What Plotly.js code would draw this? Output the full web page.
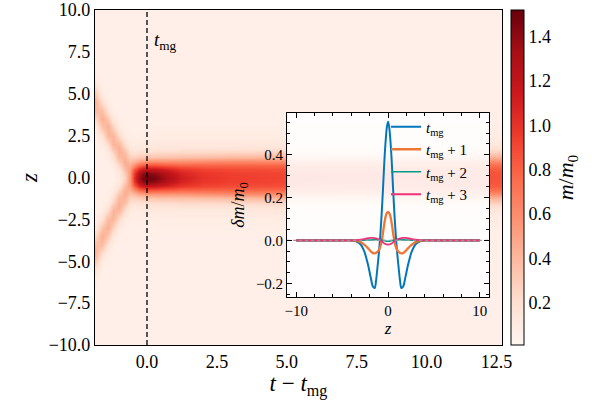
<!DOCTYPE html>
<html>
<head>
<meta charset="utf-8">
<script src="https://cdn.plot.ly/plotly-3.0.1.min.js"></script>
<style>
html,body{margin:0;padding:0;background:#fff}
#chart{width:600px;height:400px}
#chart svg text{font-family:"Liberation Serif",serif !important;font-size:18px}
</style>
</head>
<body>
<div id="chart"></div>
<script>
// ---------- main heat map: m/m0 over (t - t_mg, z) ----------
// time columns (t - t_mg)
const tCols = [-1.86, -1.6, -1.4, -1.2, -1.0, -0.8, -0.6, -0.45, -0.3, -0.15, 0, 0.3, 0.7, 1.2, 2, 3, 5, 9, 12.7];
// z rows for z >= 0 (field is mirror-symmetric in z)
const zRows = [0, 0.25, 0.5, 0.75, 1, 1.25, 1.5, 1.75, 2, 2.5, 3, 3.5, 4, 4.5, 5, 5.5, 6, 7, 10];
// m/m0 profile along zRows for every time column
const massProfiles = [
  [.06,.06,.06,.06,.06,.06,.06,.06,.06,.07,.11,.23,.39,.44,.33,.17,.09,.06,.06],
  [.06,.06,.06,.06,.06,.065,.07,.075,.095,.185,.345,.45,.375,.215,.105,.07,.06,.06,.06],
  [.06,.06,.062,.065,.072,.085,.11,.16,.23,.39,.44,.33,.17,.09,.065,.06,.06,.06,.06],
  [.065,.07,.08,.10,.14,.20,.27,.36,.42,.42,.27,.14,.08,.065,.06,.06,.06,.06,.06],
  [.12,.135,.175,.245,.33,.40,.44,.44,.39,.23,.11,.07,.06,.06,.06,.06,.06,.06,.06],
  [.28,.31,.38,.44,.45,.42,.36,.27,.20,.10,.07,.06,.06,.06,.06,.06,.06,.06,.06],
  [.55,.55,.52,.45,.36,.27,.20,.14,.11,.08,.065,.06,.06,.06,.06,.06,.06,.06,.06],
  [1.0,.95,.80,.58,.40,.27,.18,.12,.09,.07,.06,.06,.06,.06,.06,.06,.06,.06,.06],
  [1.33,1.25,1.04,.75,.48,.30,.19,.13,.10,.075,.065,.06,.06,.06,.06,.06,.06,.06,.06],
  [1.48,1.38,1.14,.82,.52,.32,.20,.14,.11,.08,.065,.06,.06,.06,.06,.06,.06,.06,.06],
  [1.52,1.42,1.18,.85,.55,.33,.20,.14,.11,.08,.065,.06,.06,.06,.06,.06,.06,.06,.06],
  [1.47,1.38,1.16,.85,.56,.34,.21,.15,.12,.085,.07,.06,.06,.06,.06,.06,.06,.06,.06],
  [1.30,1.24,1.08,.82,.56,.35,.22,.15,.12,.09,.07,.06,.06,.06,.06,.06,.06,.06,.06],
  [1.12,1.08,.98,.78,.56,.36,.23,.16,.12,.09,.07,.06,.06,.06,.06,.06,.06,.06,.06],
  [1.00,.98,.92,.78,.58,.37,.23,.16,.12,.09,.07,.06,.06,.06,.06,.06,.06,.06,.06],
  [.95,.94,.89,.78,.60,.39,.24,.16,.12,.09,.07,.06,.06,.06,.06,.06,.06,.06,.06],
  [.92,.91,.87,.77,.60,.40,.25,.17,.13,.09,.07,.06,.06,.06,.06,.06,.06,.06,.06],
  [.88,.87,.84,.75,.60,.41,.26,.18,.13,.09,.07,.06,.06,.06,.06,.06,.06,.06,.06],
  [.86,.85,.82,.74,.60,.42,.27,.18,.13,.09,.07,.06,.06,.06,.06,.06,.06,.06,.06]
];
const cRange = [0.01, 1.52];
const cbTicks = [0.2, 0.4, 0.6, 0.8, 1.0, 1.2, 1.4];
const tMerge = 0;           // dashed line position (t = t_mg)
const zSpan = [-10, 10];

// ---------- inset: delta m / m0 vs z ----------
const zIn = [-10,-5,-4,-3.5,-3,-2.6,-2.2,-1.9,-1.65,-1.45,-1.3,-1.15,-1,-0.85,-0.7,-0.55,-0.4,-0.25,-0.12,0,
             0.12,0.25,0.4,0.55,0.7,0.85,1,1.15,1.3,1.45,1.65,1.9,2.2,2.6,3,3.5,4,5,10];
const dm0 = [0,0,0,-0.004,-0.018,-0.05,-0.11,-0.17,-0.215,-0.222,-0.185,-0.125,-0.06,0.02,0.12,0.24,0.37,0.47,0.53,0.553,
             0.53,0.47,0.37,0.24,0.12,0.02,-0.06,-0.125,-0.185,-0.222,-0.215,-0.17,-0.11,-0.05,-0.018,-0.004,0,0,0];
const dm1 = [0,0,0,-0.002,-0.008,-0.02,-0.036,-0.05,-0.059,-0.06,-0.058,-0.053,-0.045,-0.03,-0.005,0.035,0.08,0.113,0.128,0.133,
             0.128,0.113,0.08,0.035,-0.005,-0.03,-0.045,-0.053,-0.058,-0.06,-0.059,-0.05,-0.036,-0.02,-0.008,-0.002,0,0,0];
const dm2 = [0,0,0,0,0,0.001,0.002,0.002,0.003,0.003,0.003,0.003,0.002,0.002,0.001,0,-0.001,-0.003,-0.004,-0.004,
             -0.004,-0.003,-0.001,0,0.001,0.002,0.002,0.003,0.003,0.003,0.003,0.002,0.002,0.001,0,0,0,0,0];
const dm3 = [0,0,0,0.001,0.003,0.006,0.01,0.012,0.012,0.011,0.009,0.007,0.004,0,-0.004,-0.009,-0.014,-0.017,-0.019,-0.02,
             -0.019,-0.017,-0.014,-0.009,-0.004,0,0.004,0.007,0.009,0.011,0.012,0.012,0.01,0.006,0.003,0.001,0,0,0];
const insetNames = ['<i>t</i><sub>mg</sub>', '<i>t</i><sub>mg</sub> + 1', '<i>t</i><sub>mg</sub> + 2', '<i>t</i><sub>mg</sub> + 3'];
const insetColors = ['#0077BB', '#EE7733', '#009988', '#EE3377'];
const insetWidths = [2, 2.3, 1.6, 1.8];
const insetXRange = [-11, 11];
const insetYRange = [-0.264, 0.594];

// build mirrored grid for the heat map
const yFull = zRows.slice(1).reverse().map(v => -v).concat(zRows);
const cols = massProfiles.map(p => p.slice(1).reverse().concat(p));

const reds = [[0,'#fff5f0'],[0.125,'#fee0d2'],[0.25,'#fcbba1'],[0.375,'#fc9272'],[0.5,'#fb6a4a'],
              [0.625,'#ef3b2c'],[0.75,'#cb181d'],[0.875,'#a50f15'],[1,'#67000d']];

const F = 'Liberation Serif';

const traces = [];
traces.push({
  type: 'heatmap', x: tCols, y: yFull, z: cols, transpose: true, zsmooth: 'best',
  colorscale: reds, zmin: cRange[0], zmax: cRange[1], showlegend: false, hoverinfo: 'skip',
  colorbar: {
    x: 1.021, xanchor: 'left', xpad: 0, ypad: 0, y: 0.5, yanchor: 'middle', len: 1, lenmode: 'fraction',
    thickness: 13, outlinecolor: '#000', outlinewidth: 1, ticks: '', tickvals: cbTicks, tickformat: '.1f',
    tickfont: {size: 18, family: F, color: '#000'},
    title: {text: '<i>m</i>/<i>m</i><sub>0</sub>', side: 'right', font: {size: 22, family: F, color: '#000'}}
  }
});
traces.push({
  type: 'scatter', mode: 'lines', x: [tMerge, tMerge], y: zSpan, xaxis: 'x', yaxis: 'y',
  line: {color: '#000', width: 1.3, dash: '5px,3px'}, showlegend: false, hoverinfo: 'skip'
});
[dm0, dm1, dm2, dm3].forEach((d, i) => {
  traces.push({
    type: 'scatter', mode: 'lines', x: zIn, y: d, xaxis: 'x2', yaxis: 'y2',
    name: insetNames[i], line: {color: insetColors[i], width: insetWidths[i], shape: 'spline', smoothing: 0.8}
  });
});
traces.push({
  type: 'scatter', mode: 'lines', x: insetXRange, y: [0, 0], xaxis: 'x2', yaxis: 'y2',
  line: {color: '#999', width: 1.2, dash: 'dot'}, showlegend: false, hoverinfo: 'skip'
});

const layout = {
  width: 600, height: 400,
  margin: {l: 95, r: 98, t: 10, b: 55},
  paper_bgcolor: '#fff', plot_bgcolor: 'rgba(255,255,255,0.88)',
  font: {family: F, size: 18, color: '#000'},
  showlegend: true,
  xaxis: {
    domain: [0, 1], range: [-1.86, 12.7], tick0: 0, dtick: 2.5, tickformat: '.1f',
    showline: true, mirror: true, linecolor: '#000', linewidth: 1.2, ticks: '',
    showgrid: false, zeroline: false, tickfont: {size: 18, family: F},
    title: {text: '<i>t</i> − <i>t</i><sub>mg</sub>', font: {size: 23, family: F}, standoff: 6}
  },
  yaxis: {
    domain: [0, 1], range: [-10, 10], tick0: 0, dtick: 2.5, tickformat: '.1f',
    showline: true, mirror: true, linecolor: '#000', linewidth: 1.2, ticks: '',
    showgrid: false, zeroline: false, tickfont: {size: 18, family: F},
    title: {text: '<i>z</i>', font: {size: 23, family: F}, standoff: 4}
  },
  xaxis2: {
    domain: [0.472, 0.968], anchor: 'y2', range: insetXRange, tickvals: [-10, 0, 10],
    showline: true, mirror: 'allticks', linecolor: '#000', linewidth: 1,
    ticks: 'inside', ticklen: 5, tickcolor: '#000',
    minor: {ticks: 'inside', ticklen: 3, dtick: 2, tick0: 0, tickcolor: '#000'},
    showgrid: false, zeroline: false, tickfont: {size: 15, family: F},
    title: {text: '<i>z</i>', font: {size: 17, family: F}, standoff: 4}
  },
  yaxis2: {
    domain: [0.143, 0.693], anchor: 'x2', range: insetYRange, tick0: 0, dtick: 0.2, tickformat: '.1f',
    showline: true, mirror: 'allticks', linecolor: '#000', linewidth: 1,
    ticks: 'inside', ticklen: 5, tickcolor: '#000',
    minor: {ticks: 'inside', ticklen: 3, dtick: 0.05, tick0: 0, tickcolor: '#000'},
    showgrid: false, zeroline: false, tickfont: {size: 15, family: F},
    title: {text: '<i>δm</i>/<i>m</i><sub>0</sub>', font: {size: 18, family: F}, standoff: 6}
  },
  legend: {
    x: 0.715, y: 0.70, xanchor: 'left', yanchor: 'top', bgcolor: 'rgba(0,0,0,0)',
    font: {size: 15, family: F}, tracegroupgap: 0
  },
  annotations: [{
    x: 0.18, y: 8.15, xref: 'x', yref: 'y', text: '<i>t</i><sub>mg</sub>', showarrow: false,
    xanchor: 'left', yanchor: 'middle', font: {size: 19, family: F}
  }]
};

Plotly.newPlot('chart', traces, layout, {displayModeBar: false});
</script>
</body>
</html>
